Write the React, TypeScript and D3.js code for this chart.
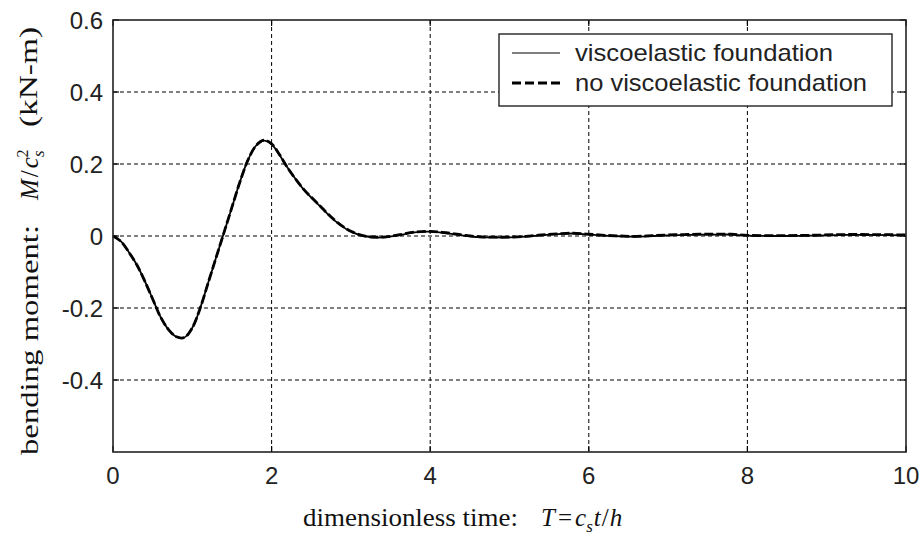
import React from "react";
import * as d3 from "d3";

const T_VALUES = [0, 0.1, 0.2, 0.3, 0.4, 0.5, 0.6, 0.7, 0.8, 0.9, 1.0, 1.1, 1.2, 1.3, 1.4, 1.5, 1.6, 1.7, 1.8, 1.9, 2.0, 2.1, 2.2, 2.4, 2.6, 2.8, 3.0, 3.2, 3.4, 3.6, 3.8, 4.0, 4.2, 4.4, 4.6, 4.8, 5.0, 5.2, 5.4, 5.6, 5.8, 6.0, 6.2, 6.4, 6.6, 6.8, 7.0, 7.2, 7.4, 7.6, 7.8, 8.0, 8.4, 8.8, 9.2, 9.6, 10];
const VISCO = [0, -0.015, -0.045, -0.08, -0.125, -0.175, -0.225, -0.26, -0.28, -0.282, -0.255, -0.2, -0.13, -0.06, 0.01, 0.08, 0.15, 0.21, 0.25, 0.265, 0.255, 0.225, 0.19, 0.13, 0.085, 0.042, 0.012, -0.002, -0.004, 0.002, 0.01, 0.012, 0.008, 0.002, -0.003, -0.004, -0.004, -0.002, 0.002, 0.005, 0.007, 0.004, 0.001, -0.001, -0.002, 0, 0.002, 0.003, 0.004, 0.004, 0.004, 0.001, 0, 0.001, 0.003, 0.003, 0.002];
const NO_VISCO = [0, -0.015, -0.045, -0.08, -0.125, -0.175, -0.225, -0.26, -0.28, -0.282, -0.255, -0.2, -0.13, -0.06, 0.01, 0.08, 0.15, 0.21, 0.25, 0.266, 0.256, 0.226, 0.19, 0.131, 0.086, 0.043, 0.013, -0.001, -0.003, 0.003, 0.011, 0.013, 0.009, 0.003, -0.002, -0.003, -0.003, -0.001, 0.003, 0.006, 0.008, 0.005, 0.002, 0, -0.001, 0.001, 0.003, 0.004, 0.005, 0.005, 0.005, 0.002, 0.001, 0.002, 0.004, 0.004, 0.003];
const X_TICKS = [0, 2, 4, 6, 8, 10];
const Y_TICKS = [-0.4, -0.2, 0, 0.2, 0.4, 0.6];
const Y_TICK_LABELS = ["-0.4", "-0.2", "0", "0.2", "0.4", "0.6"];
const LEGEND = ["viscoelastic foundation", "no viscoelastic foundation"];

const W = 920, H = 543;
const L = 113, R = 906, TOP = 20, BOT = 452;

export default function App() {
  const x = d3.scaleLinear().domain([0, 10]).range([L, R]);
  const y = d3.scaleLinear().domain([-0.6, 0.6]).range([BOT, TOP]);
  const line = d3.line<number>().x((_, i) => x(T_VALUES[i])).y((v) => y(v)).curve(d3.curveCatmullRom.alpha(0.5));
  const sans = "'Liberation Sans', Arial, sans-serif";
  const serif = "'Liberation Serif', 'Times New Roman', serif";
  return (
    <svg width={W} height={H} style={{ position: "absolute", left: 0, top: 0, background: "#fff" }}>
      <rect x={0} y={0} width={W} height={H} fill="#fff" />
      {X_TICKS.filter((t) => t > 0 && t < 10).map((t) => (
        <line key={"gx" + t} x1={x(t)} x2={x(t)} y1={TOP} y2={BOT} stroke="#000" strokeWidth={1} strokeDasharray="4,3" />
      ))}
      {Y_TICKS.filter((t) => t < 0.6).map((t) => (
        <line key={"gy" + t} x1={L} x2={R} y1={y(t)} y2={y(t)} stroke="#000" strokeWidth={1} strokeDasharray="4,3" />
      ))}
      {X_TICKS.map((t) => (
        <g key={"tx" + t}>
          <line x1={x(t)} x2={x(t)} y1={BOT} y2={BOT - 6} stroke="#000" strokeWidth={1.2} />
          <line x1={x(t)} x2={x(t)} y1={TOP} y2={TOP + 6} stroke="#000" strokeWidth={1.2} />
          <text x={x(t)} y={484} textAnchor="middle" fontFamily={sans} fontSize={24} fill="#222">{t}</text>
        </g>
      ))}
      {Y_TICKS.map((t, i) => (
        <g key={"ty" + t}>
          <line x1={L} x2={L + 6} y1={y(t)} y2={y(t)} stroke="#000" strokeWidth={1.2} />
          <line x1={R} x2={R - 6} y1={y(t)} y2={y(t)} stroke="#000" strokeWidth={1.2} />
          <text x={103} y={y(t) + 9} textAnchor="end" fontFamily={sans} fontSize={24} fill="#222">{Y_TICK_LABELS[i]}</text>
        </g>
      ))}
      <path d={line(NO_VISCO) || ""} fill="none" stroke="#000" strokeWidth={2.8} strokeDasharray="9,3" />
      <path d={line(VISCO) || ""} fill="none" stroke="#000" strokeWidth={1.8} />
      <rect x={L} y={TOP} width={R - L} height={BOT - TOP} fill="none" stroke="#222" strokeWidth={1.6} />
      <rect x={499} y={34} width={393} height={72} fill="#fff" stroke="#222" strokeWidth={1.4} />
      <line x1={512} x2={560} y1={53} y2={53} stroke="#000" strokeWidth={1.2} />
      <line x1={512} x2={560} y1={83} y2={83} stroke="#000" strokeWidth={2.8} strokeDasharray="9,4" />
      <text x={575} y={61} fontFamily={sans} fontSize={24} fill="#222" textLength={258} lengthAdjust="spacingAndGlyphs">{LEGEND[0]}</text>
      <text x={575} y={91} fontFamily={sans} fontSize={24} fill="#222" textLength={292} lengthAdjust="spacingAndGlyphs">{LEGEND[1]}</text>
      <text x={303} y={526} fontFamily={serif} fontSize={25} fill="#111" textLength={215} lengthAdjust="spacingAndGlyphs">dimensionless time:</text>
      <text x={541} y={526} fontFamily={serif} fontSize={25} fill="#111">
        <tspan fontStyle="italic">T</tspan>
        <tspan dx={3}>=</tspan>
        <tspan dx={3} fontStyle="italic">c</tspan>
        <tspan fontStyle="italic" fontSize={17} dy={6}>s</tspan>
        <tspan fontStyle="italic" dy={-6} dx={1}>t</tspan>
        <tspan dx={1}>/</tspan>
        <tspan dx={1} fontStyle="italic">h</tspan>
      </text>
      <g transform="translate(38,455) rotate(-90)">
        <text x={0} y={0} fontFamily={serif} fontSize={25} fill="#111" textLength={230} lengthAdjust="spacingAndGlyphs">bending moment:</text>
        <text x={255} y={0} fontFamily={serif} fontSize={25} fill="#111">
          <tspan fontStyle="italic">M</tspan>
          <tspan dx={2}>/</tspan>
          <tspan dx={2} fontStyle="italic">c</tspan>
          <tspan fontStyle="italic" fontSize={17} dy={6}>s</tspan>
          <tspan fontSize={16} dy={-16} dx={-7}>2</tspan>
        </text>
        <text x={328} y={-1} fontFamily={serif} fontSize={25} fill="#111" textLength={100} lengthAdjust="spacingAndGlyphs">(kN-m)</text>
      </g>
    </svg>
  );
}
